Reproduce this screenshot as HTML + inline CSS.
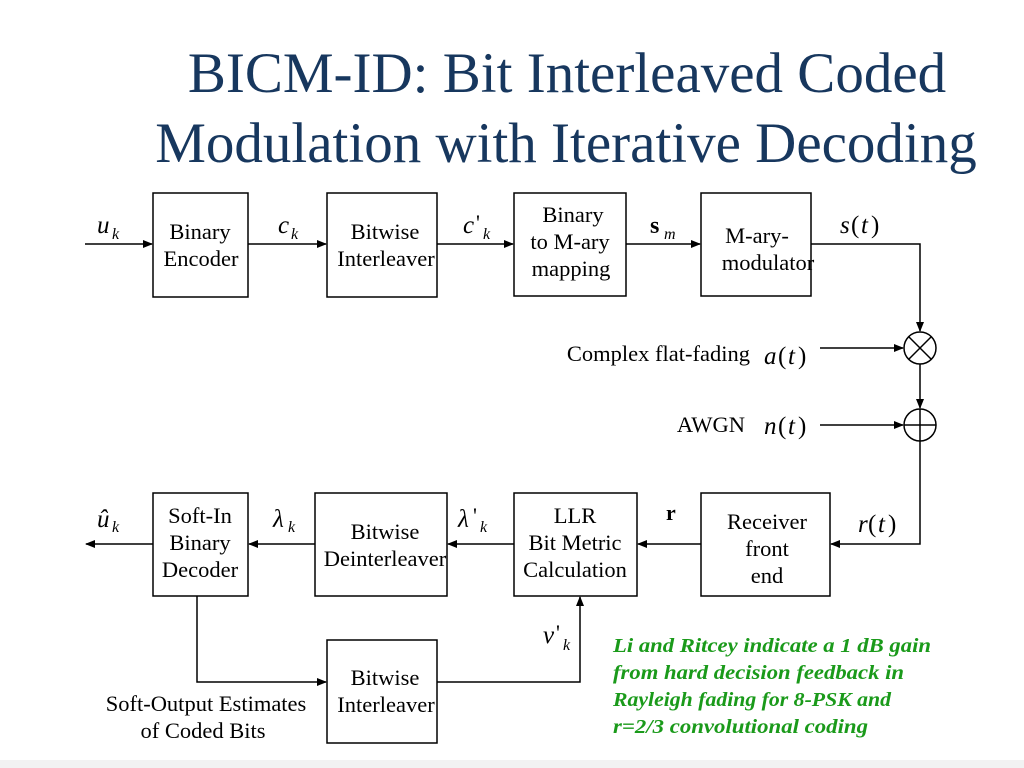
<!DOCTYPE html>
<html><head><meta charset="utf-8"><style>
body{margin:0;background:#fff}
svg{display:block}
text{font-family:"Liberation Serif",serif;fill:#000}
.t{font-size:22.5px;text-anchor:middle}
.m{font-size:25px;font-style:italic}
.s{font-size:16px;font-style:italic}
</style></head><body>
<svg width="1024" height="768" viewBox="0 0 1024 768">
<defs><marker id="a" markerWidth="10" markerHeight="8" refX="9" refY="4" orient="auto" markerUnits="userSpaceOnUse"><path d="M0,0L10,4L0,8z" fill="#000"/></marker></defs>
<text x="567" y="92" style="font-size:57px;fill:#17375e" text-anchor="middle">BICM-ID: Bit Interleaved Coded</text>
<text x="566" y="162" style="font-size:57px;fill:#17375e" text-anchor="middle">Modulation with Iterative Decoding</text>
<g fill="none" stroke="#000" stroke-width="1.5">
<rect x="153" y="193" width="95" height="104"/>
<rect x="327" y="193" width="110" height="104"/>
<rect x="514" y="193" width="112" height="103"/>
<rect x="701" y="193" width="110" height="103"/>
<rect x="701" y="493" width="129" height="103"/>
<rect x="514" y="493" width="123" height="103"/>
<rect x="315" y="493" width="132" height="103"/>
<rect x="153" y="493" width="95" height="103"/>
<rect x="327" y="640" width="110" height="103"/>
<circle cx="920" cy="348" r="16"/>
<circle cx="920" cy="425" r="16"/>
<path d="M909,337L931,359M931,337L909,359M904,425H936M920,409V441"/>
<path d="M85,244H152" marker-end="url(#a)"/>
<path d="M248,244H326" marker-end="url(#a)"/>
<path d="M437,244H513" marker-end="url(#a)"/>
<path d="M626,244H700" marker-end="url(#a)"/>
<path d="M811,244H920V331" marker-end="url(#a)"/>
<path d="M920,364V408" marker-end="url(#a)"/>
<path d="M820,348H903" marker-end="url(#a)"/>
<path d="M820,425H903" marker-end="url(#a)"/>
<path d="M920,441V544H831" marker-end="url(#a)"/>
<path d="M701,544H638" marker-end="url(#a)"/>
<path d="M514,544H448" marker-end="url(#a)"/>
<path d="M315,544H249" marker-end="url(#a)"/>
<path d="M153,544H86" marker-end="url(#a)"/>
<path d="M197,596V682H326" marker-end="url(#a)"/>
<path d="M437,682H580V597" marker-end="url(#a)"/>
</g>
<text class="t" x="200" y="239">Binary</text><text class="t" x="201" y="266">Encoder</text>
<text class="t" x="385" y="239">Bitwise</text><text class="t" x="386" y="266">Interleaver</text>
<text class="t" x="573" y="222">Binary</text><text class="t" x="570" y="249">to M-ary</text><text class="t" x="571" y="276">mapping</text>
<text class="t" x="757" y="243">M-ary-</text><text class="t" x="768" y="270">modulator</text>
<text class="t" x="767" y="529">Receiver</text><text class="t" x="767" y="556">front</text><text class="t" x="767" y="583">end</text>
<text class="t" x="575" y="523">LLR</text><text class="t" x="575" y="550">Bit Metric</text><text class="t" x="575" y="577">Calculation</text>
<text class="t" x="385" y="539">Bitwise</text><text class="t" x="385" y="566">Deinterleaver</text>
<text class="t" x="200" y="523">Soft-In</text><text class="t" x="200" y="550">Binary</text><text class="t" x="200" y="577">Decoder</text>
<text class="t" x="385" y="685">Bitwise</text><text class="t" x="386" y="712">Interleaver</text>
<text class="t" x="206" y="711">Soft-Output Estimates</text><text class="t" x="203" y="738">of Coded Bits</text>
<text class="t" x="750" y="361" text-anchor="end" style="text-anchor:end">Complex flat-fading</text>
<text class="t" x="745" y="432" style="text-anchor:end">AWGN</text>
<text class="m" x="97" y="233">u</text><text class="s" x="112" y="239">k</text>
<text class="m" x="278" y="233">c</text><text class="s" x="291" y="239">k</text>
<text class="m" x="463" y="233">c</text><text x="476" y="230" style="font-size:22px">'</text><text class="s" x="483" y="239">k</text>
<text x="650" y="233" style="font-size:24px;font-weight:bold">s</text><text class="s" x="664" y="239">m</text>
<text class="m" x="840" y="233">s</text><text x="851" y="233" style="font-size:25px">(</text><text class="m" x="861" y="233">t</text><text x="871" y="233" style="font-size:25px">)</text>
<text class="m" x="764" y="364">a</text><text x="778" y="364" style="font-size:25px">(</text><text class="m" x="788" y="364">t</text><text x="798" y="364" style="font-size:25px">)</text>
<text class="m" x="764" y="434">n</text><text x="778" y="434" style="font-size:25px">(</text><text class="m" x="788" y="434">t</text><text x="798" y="434" style="font-size:25px">)</text>
<text class="m" x="858" y="532">r</text><text x="868" y="532" style="font-size:25px">(</text><text class="m" x="878" y="532">t</text><text x="888" y="532" style="font-size:25px">)</text>
<text x="666" y="520" style="font-size:22px;font-weight:bold">r</text>
<text class="m" x="97" y="527">û</text><text class="s" x="112" y="532">k</text>
<text class="m" x="273" y="527">λ</text><text class="s" x="288" y="532">k</text>
<text class="m" x="458" y="527">λ</text><text x="473" y="523" style="font-size:22px">'</text><text class="s" x="480" y="532">k</text>
<text class="m" x="543" y="643">v</text><text x="556" y="640" style="font-size:22px">'</text><text class="s" x="563" y="650">k</text>
<g style="font-size:20px;font-style:italic;font-weight:bold">
<text x="613" y="652" textLength="318" lengthAdjust="spacingAndGlyphs" style="fill:#1a9a1a">Li and Ritcey indicate a 1 dB gain</text>
<text x="613" y="679" textLength="291" lengthAdjust="spacingAndGlyphs" style="fill:#1a9a1a">from hard decision feedback in</text>
<text x="613" y="706" textLength="278" lengthAdjust="spacingAndGlyphs" style="fill:#1a9a1a">Rayleigh fading for 8-PSK and</text>
<text x="613" y="733" textLength="255" lengthAdjust="spacingAndGlyphs" style="fill:#1a9a1a">r=2/3 convolutional coding</text>
</g>
<rect x="0" y="760" width="1024" height="8" fill="#f2f2f2"/>
</svg>
</body></html>
